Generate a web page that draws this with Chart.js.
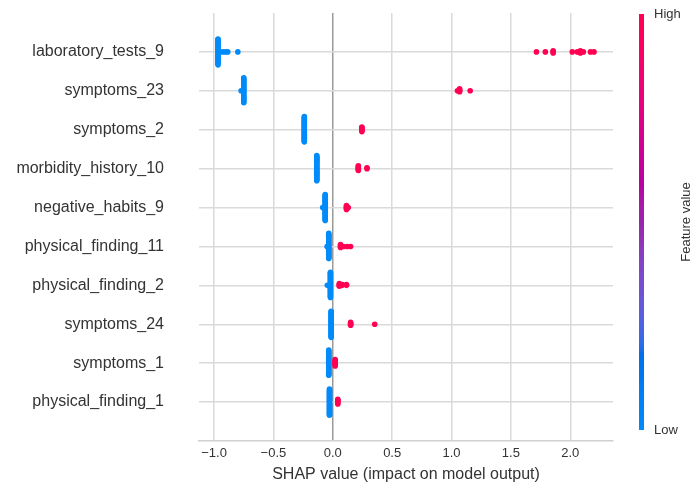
<!DOCTYPE html>
<html>
<head>
<meta charset="utf-8">
<script src="https://cdn.jsdelivr.net/npm/chart.js@4/dist/chart.umd.min.js"></script>
<style>
  html, body { margin: 0; padding: 0; background: #ffffff; }
  #wrap { width: 693px; height: 487px; position: relative; }
</style>
</head>
<body>
<div id="wrap"><canvas id="chart" width="693" height="487"></canvas></div>
<script>
// Features, ordered from most to least important (top to bottom)
const featureNames = [
  'laboratory_tests_9', 'symptoms_23', 'symptoms_2', 'morbidity_history_10',
  'negative_habits_9', 'physical_finding_11', 'physical_finding_2',
  'symptoms_24', 'symptoms_1', 'physical_finding_1'
];

// SHAP values of samples with a LOW feature value, as [shap value, number of samples]
const lowGroups = [
  [[-0.967, 25], [-0.93, 1], [-0.905, 1], [-0.885, 1], [-0.80, 1]],
  [[-0.75, 26], [-0.772, 1]],
  [[-0.24, 28]],
  [[-0.135, 28]],
  [[-0.064, 27], [-0.085, 1]],
  [[-0.034, 28], [-0.048, 1]],
  [[-0.02, 28], [-0.046, 1]],
  [[-0.014, 29]],
  [[-0.034, 28]],
  [[-0.028, 29]]
];

// SHAP values of samples with a HIGH feature value, as [shap value, number of samples]
const highGroups = [
  [[1.715, 1], [1.79, 1], [1.856, 3], [2.017, 1], [2.06, 1], [2.085, 2], [2.11, 1], [2.17, 1], [2.20, 1]],
  [[1.05, 1], [1.068, 4], [1.157, 1]],
  [[0.245, 6]],
  [[0.215, 6], [0.288, 2]],
  [[0.115, 5], [0.13, 1]],
  [[0.065, 4], [0.09, 1], [0.12, 1], [0.15, 1]],
  [[0.055, 4], [0.08, 2], [0.115, 2]],
  [[0.15, 4], [0.353, 1]],
  [[0.02, 8]],
  [[0.042, 6]]
];

const xTickValues = [-1.0, -0.5, 0.0, 0.5, 1.0, 1.5, 2.0];

const LOW_COLOR = '#008bfb';
const HIGH_COLOR = '#ff0052';
const FONT = "'Liberation Sans', Arial, Helvetica, sans-serif";
const TEXT_COLOR = '#333333';

// Beeswarm layout: samples sharing a value bin are stacked alternately up/down
function swarmOffsets(values) {
  const n = values.length;
  const min = Math.min(...values), max = Math.max(...values);
  const nbins = 100;
  const quant = values.map(v => Math.round(nbins * (v - min) / (max - min + 1e-8)));
  const order = values.map((_, i) => i).sort((a, b) => quant[a] - quant[b] || a - b);
  const ys = new Array(n).fill(0);
  let layer = 0, lastBin = -1;
  for (const i of order) {
    if (quant[i] !== lastBin) layer = 0;
    ys[i] = Math.ceil(layer / 2) * ((layer % 2) * 2 - 1);
    layer++;
    lastBin = quant[i];
  }
  const rowHeight = 0.4;
  const m = Math.max(...ys.map(y => y + 1));
  return ys.map(y => y * 0.9 * (rowHeight / m));
}

const lowPoints = [];
const highPoints = [];
featureNames.forEach((name, row) => {
  const samples = [];
  lowGroups[row].forEach(([v, c]) => { for (let k = 0; k < c; k++) samples.push({ v, high: false }); });
  highGroups[row].forEach(([v, c]) => { for (let k = 0; k < c; k++) samples.push({ v, high: true }); });
  const offs = swarmOffsets(samples.map(s => s.v));
  samples.forEach((s, i) => {
    const p = { x: s.v, y: row - offs[i] };
    (s.high ? highPoints : lowPoints).push(p);
  });
});

// Perceptual red-blue colour map (LCH interpolation)
function lchToRgb(l, c, h) {
  const a = c * Math.cos(h), b = c * Math.sin(h);
  const fy = (l + 16) / 116, fx = fy + a / 500, fz = fy - b / 200;
  const finv = t => (t > 6 / 29 ? t * t * t : 3 * (6 / 29) * (6 / 29) * (t - 4 / 29));
  const X = 0.95047 * finv(fx), Y = finv(fy), Z = 1.08883 * finv(fz);
  let r = 3.2406 * X - 1.5372 * Y - 0.4986 * Z;
  let g = -0.9689 * X + 1.8758 * Y + 0.0415 * Z;
  let bl = 0.0557 * X - 0.2040 * Y + 1.0570 * Z;
  const gam = u => {
    u = u <= 0.0031308 ? 12.92 * u : 1.055 * Math.pow(Math.max(u, 0), 1 / 2.4) - 0.055;
    return Math.round(255 * Math.min(1, Math.max(0, u)));
  };
  return `rgb(${gam(r)},${gam(g)},${gam(bl)})`;
}
function colorStops() {
  const n = 100, stops = [];
  const blue = [54, 70, 4.6588], red = [54, 90, 0.35470565 + 2 * Math.PI], lMid = 40;
  for (let i = 0; i < n; i++) {
    const t = i / (n - 1);
    const half = n / 2;
    const l = i < half ? blue[0] + (lMid - blue[0]) * (i / (half - 1))
                       : lMid + (red[0] - lMid) * ((i - half) / (half - 1));
    const c = blue[1] + (red[1] - blue[1]) * t;
    const h = blue[2] + (red[2] - blue[2]) * t;
    stops.push([t, lchToRgb(l, c, h)]);
  }
  return stops;
}
const cmapStops = colorStops();

const colorbarPlugin = {
  id: 'colorbar',
  afterDraw(chart) {
    const { ctx, chartArea } = chart;
    const top = chartArea.top + 1;
    const bottom = chartArea.bottom - 11;
    const x0 = chartArea.right + 26;
    const w = 5;
    const grad = ctx.createLinearGradient(0, bottom, 0, top);
    cmapStops.forEach(([t, col]) => grad.addColorStop(t, col));
    ctx.save();
    ctx.fillStyle = grad;
    ctx.fillRect(x0, top, w, bottom - top);
    ctx.fillStyle = TEXT_COLOR;
    ctx.font = `13px ${FONT}`;
    ctx.textAlign = 'left';
    ctx.textBaseline = 'middle';
    ctx.fillText('High', x0 + w + 10, top);
    ctx.fillText('Low', x0 + w + 10, bottom);
    ctx.translate(x0 + 47, (top + bottom) / 2);
    ctx.rotate(-Math.PI / 2);
    ctx.textAlign = 'center';
    ctx.fillText('Feature value', 0, 0);
    ctx.restore();
  }
};

new Chart(document.getElementById('chart'), {
  type: 'scatter',
  data: {
    datasets: [
      { label: 'Low', data: lowPoints, backgroundColor: LOW_COLOR, pointRadius: 2.8, pointBorderWidth: 0, pointHoverRadius: 2.8 },
      { label: 'High', data: highPoints, backgroundColor: HIGH_COLOR, pointRadius: 2.8, pointBorderWidth: 0, pointHoverRadius: 2.8 }
    ]
  },
  options: {
    responsive: false,
    animation: false,
    events: [],
    layout: { padding: { top: 13, right: 80, bottom: 0, left: 0 } },
    plugins: { legend: { display: false }, tooltip: { enabled: false } },
    scales: {
      x: {
        type: 'linear',
        min: -1.127,
        max: 2.36,
        afterBuildTicks: scale => { scale.ticks = xTickValues.map(v => ({ value: v })); },
        afterFit: scale => { scale.height = 46; scale.paddingLeft = 0; scale.paddingRight = 0; },
        ticks: {
          autoSkip: false,
          maxRotation: 0,
          padding: 5,
          color: TEXT_COLOR,
          font: { family: FONT, size: 13 },
          callback: v => v.toFixed(1).replace('-', '\u2212')
        },
        grid: {
          drawTicks: false,
          color: ctx => (ctx.tick && ctx.tick.value === 0 ? '#9a9a9a' : '#dadada'),
          lineWidth: 1.5
        },
        border: { display: true, color: '#d0d0d0', width: 1.5 },
        title: {
          display: true,
          text: 'SHAP value (impact on model output)',
          color: TEXT_COLOR,
          font: { family: FONT, size: 16 },
          padding: { top: 0, bottom: 3 }
        }
      },
      y: {
        type: 'linear',
        min: -1,
        max: 10,
        reverse: true,
        afterBuildTicks: scale => { scale.ticks = featureNames.map((_, i) => ({ value: i })); },
        afterFit: scale => { scale.width = 199; scale.paddingTop = 0; scale.paddingBottom = 0; },
        ticks: {
          autoSkip: false,
          padding: 35,
          color: TEXT_COLOR,
          font: { family: FONT, size: 16 },
          callback: v => featureNames[v]
        },
        grid: { drawTicks: false, color: '#dadada', lineWidth: 1.5 },
        border: { display: false }
      }
    }
  },
  plugins: [colorbarPlugin]
});
</script>
</body>
</html>
